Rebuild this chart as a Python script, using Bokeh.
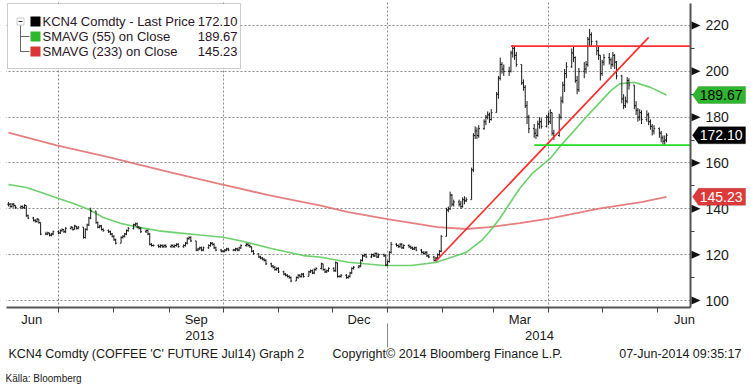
import pandas as pd
from bokeh.plotting import figure
from bokeh.models import (Range1d, FixedTicker, LinearAxis, Label, BoxAnnotation,
                          PolyAnnotation, ColumnDataSource)
from bokeh.embed import file_html
from bokeh.resources import INLINE

# ---------------- data ----------------
first_day = "2013-06-03"
last_day = "2014-06-06"

close = [
    142, 141, 142, 141.5, 140.5,
    141, 140.5, 141.5, 137, 136,
    135, 134.5, 135.5, 134, 129,
    129, 129.5, 128.5, 129, 130,
    129.5, 130.5, 131, 130, 131.5,
    132, 131, 132.5, 131.5, 132,
    127.5, 131, 133, 136, 139,
    134, 132, 132.5, 131, 130.5,
    130, 129, 128, 126.5, 125,
    127.5, 128, 129, 130.5, 131.5,
    133, 133.5, 132, 131.5, 130,
    130.5, 129, 124.5, 124, 124,
    123.5, 124, 123.5, 124, 123.5,
    124, 123.5, 124, 124.5, 123.5,
    124, 125, 127, 127.5, 126,
    122, 122.5, 123, 122, 123,
    124, 125, 124.5, 123, 122,
    121.5, 121.5, 122, 122.5, 122,
    122, 122.5, 122, 123, 124,
    124.5, 124, 123.5, 121.5, 120.5,
    119, 118.5, 118, 117.5, 116,
    115, 114.5, 113.5, 114, 112.5,
    111.5, 111, 110.5, 110, 108.5,
    110, 111, 110.5, 111.5, 110.5,
    112.5, 113, 112, 113.5, 114,
    116, 113.5, 112.5, 113, 114,
    113, 116.5, 110.5, 110.5, 111,
    110, 110.5, 112, 114, 114.5,
    115, 117.5, 119.5, 120, 119,
    120, 119.5, 120.5, 119, 120,
    119.5, 115.5, 117, 121, 124.5,
    124, 123.5, 124.5, 123, 124,
    123.5, 123, 122.5, 123, 122,
    121, 120.5, 121, 119.5, 119,
    117.5, 118.5, 120, 121.5, 128,
    139.5, 140, 146, 142, 143,
    142, 141, 144, 143.5, 144,
    157, 172, 174, 172, 175,
    178, 180, 181, 179, 182,
    190, 197, 203, 201, 200,
    200, 208, 210, 207, 203,
    195, 193, 185, 180, 175,
    173, 172, 177, 178, 176,
    180, 178, 182, 173, 172,
    180, 187, 194, 199, 202,
    208, 206, 196, 192, 200,
    201, 203, 214, 216, 213,
    209, 207, 199, 204, 206,
    205, 203, 207, 204, 198,
    188, 185, 187, 196, 194,
    185, 183, 180, 182, 179,
    181, 178, 176, 174, 175,
    173, 171, 169.5, 170, 172.1,
]

high = [
    143, 142.5, 142.5, 142.5, 141.5,
    141.5, 141.5, 142, 141.5, 137.5,
    136.5, 135.5, 136, 135.5, 134,
    130, 130, 129.5, 129.5, 130.5,
    130.5, 131, 131.5, 131, 132,
    132.5, 132, 133, 132.5, 132.5,
    132, 131.5, 133.5, 136.5, 140.5,
    139, 134.5, 133, 133, 131.5,
    131, 130.5, 129.5, 128.5, 127,
    128, 128.5, 129.5, 131, 132,
    133.5, 134, 134, 132.5, 132,
    131, 131, 129.5, 125, 124.5,
    124.5, 124.5, 124.5, 124.5, 124.5,
    124.5, 124.5, 124.5, 125, 125,
    124.5, 125.5, 127.5, 128, 128,
    126, 123, 123.5, 123.5, 123.5,
    124.5, 125.5, 125.5, 125, 123.5,
    122.5, 122, 122.5, 123, 123,
    122.5, 123, 123, 123.5, 124.5,
    125, 125, 124.5, 123.5, 122,
    120.5, 119.5, 119, 118.5, 118,
    116.5, 115.5, 115, 114.5, 114.5,
    113, 112, 111.5, 111, 110.5,
    110.5, 111.5, 111.5, 112, 112,
    113, 113.5, 113.5, 114, 114.5,
    116.5, 116, 114, 113.5, 114.5,
    114.5, 117, 116.5, 111, 111.5,
    111.5, 111, 112.5, 114.5, 115,
    115.5, 118, 120, 120.5, 120.5,
    120.5, 120.5, 121, 121, 120.5,
    120.5, 120, 117.5, 121.5, 125.5,
    125, 124.5, 125, 125, 124.5,
    124.5, 124, 123.5, 123.5, 123.5,
    122.5, 121.5, 121.5, 121.5, 120,
    119.5, 119, 120.5, 122, 128.5,
    140.5, 141, 147.5, 146.5, 144,
    144, 143.5, 145, 145.5, 145,
    158, 173, 176, 175.5, 176.5,
    179, 181, 182.5, 182, 183.5,
    191, 198, 206, 204, 203,
    202, 209, 211.5, 211, 208.5,
    203, 196.5, 194, 187, 181,
    177, 175, 178.5, 180, 179.5,
    181, 182, 183.5, 182, 174.5,
    181.5, 189, 195.5, 201, 204,
    210, 211, 206.5, 198, 201.5,
    204, 204.5, 215, 218.5, 217,
    213.5, 211, 207, 205, 207.5,
    208, 206, 208.5, 207.5, 204.5,
    198.5, 190, 189, 197.5, 197,
    194, 187, 184, 183.5, 183,
    183, 182, 179, 177, 176.5,
    175.5, 174, 172, 172, 173,
]

low = [
    141, 140.5, 140.5, 140.5, 140,
    140, 140, 140, 136.5, 135.5,
    134.5, 134, 134, 133.5, 128.5,
    128.5, 128.5, 128, 128, 128.5,
    129, 129, 130, 129.5, 129.5,
    131, 130.5, 131, 131, 131,
    127, 127, 130.5, 132.5, 135.5,
    133.5, 131.5, 131.5, 130.5, 130,
    129.5, 128.5, 127.5, 126, 124.5,
    125, 127, 127.5, 128.5, 130,
    131, 132.5, 131.5, 131, 129.5,
    129.5, 128.5, 124, 123.5, 123.5,
    123, 123, 123, 123, 123,
    123, 123, 123, 123.5, 123,
    123, 123.5, 124.5, 126.5, 125.5,
    121.5, 121.5, 122, 121.5, 121.5,
    122.5, 123.5, 124, 122.5, 121.5,
    121, 121, 121, 121.5, 121.5,
    121.5, 121.5, 121.5, 121.5, 122.5,
    123.5, 123.5, 123, 121, 120,
    118.5, 118, 117.5, 117, 115.5,
    114.5, 114, 113, 113, 112,
    111, 110.5, 110, 109.5, 108,
    108.5, 109.5, 110, 110, 110,
    110.5, 112, 111.5, 111.5, 113,
    113.5, 113, 112, 112, 112.5,
    112.5, 112.5, 110, 110, 110,
    109.5, 109.5, 110, 111.5, 113.5,
    114, 114.5, 117, 119, 118.5,
    118.5, 119, 119, 118.5, 118.5,
    119, 115, 115, 116.5, 120.5,
    123.5, 123, 123, 122.5, 122.5,
    123, 122.5, 122, 122, 121.5,
    120.5, 120, 120, 119, 118.5,
    117, 117, 118, 119.5, 121,
    128, 138.5, 139.5, 141, 141,
    141, 140, 140.5, 142, 143,
    144, 156, 170.5, 170.5, 171,
    174.5, 176.5, 179, 177.5, 178.5,
    182, 188, 196, 199, 198,
    198, 199.5, 206, 205, 202,
    194, 191.5, 184, 177, 173,
    171, 170.5, 171.5, 175, 175,
    175.5, 176.5, 177, 172, 170,
    171.5, 179, 186, 191, 197,
    201.5, 204, 195, 190, 191,
    197, 199, 202, 211, 211,
    207, 205, 196, 198, 202.5,
    203, 201, 202, 201, 196.5,
    186, 183.5, 184, 186, 192,
    183.5, 181, 178, 178.5, 177,
    178, 176.5, 174.5, 172, 172.5,
    171, 169, 168, 168, 169,
]

sma55_dates = ["2013-06-03", "2013-06-13", "2013-06-21", "2013-07-01", "2013-07-09",
               "2013-07-18", "2013-07-26", "2013-08-05", "2013-08-15", "2013-08-26",
               "2013-09-06", "2013-09-18", "2013-10-01", "2013-10-10", "2013-10-28",
               "2013-11-15", "2013-11-25", "2013-12-10", "2013-12-30", "2014-01-14",
               "2014-01-28", "2014-02-14", "2014-02-23", "2014-02-27", "2014-03-05",
               "2014-03-10", "2014-03-16", "2014-03-23", "2014-04-02", "2014-04-08",
               "2014-04-23", "2014-05-06", "2014-05-11", "2014-05-19", "2014-05-28",
               "2014-06-06"]
sma55_values = [150.6, 149.3, 147.2, 144.5, 142.4,
                139.7, 136.2, 133.6, 131.9, 130.4,
                129.5, 128.6, 127.6, 126.2, 122.7,
                119.6, 118.9, 116.7, 115.3, 115.3,
                116.6, 121.0, 126.5, 130.0, 136.0,
                142.0, 149.0, 155.5, 162.0, 167.7,
                180.8, 191.7, 194.6, 195.2, 193.0,
                189.67]

sma233_dates = ["2013-06-03", "2013-06-30", "2013-07-29", "2013-09-01", "2013-09-29",
                "2013-10-27", "2013-11-24", "2013-12-10", "2014-01-01", "2014-01-29",
                "2014-02-14", "2014-02-27", "2014-03-16", "2014-04-02", "2014-04-30",
                "2014-05-23", "2014-06-06"]
sma233_values = [173.3, 167.7, 162.6, 156.0, 150.9,
                 145.9, 141.5, 138.6, 135.5, 132.0,
                 131.2, 132.0, 133.8, 135.8, 140.2,
                 142.9, 145.23]

trend_dates = ["2014-01-28", "2014-05-27"]
trend_values = [117.2, 214.8]
resistance_dates = ["2014-03-11", "2014-06-19"]
resistance_values = [211.0, 211.0]
support_dates = ["2014-03-24", "2014-06-19"]
support_values = [167.8, 167.8]

y_ticks = [100, 120, 140, 160, 180, 200, 220]
y_minor = [110, 130, 150, 170, 190, 210]
month_labels = ["Jun", "Sep", "Dec", "Mar", "Jun"]
month_label_dates = ["2013-06-16", "2013-09-16", "2013-12-16", "2014-03-16", "2014-06-16"]
month_starts = ["2013-07-01", "2013-08-01", "2013-09-01", "2013-10-01", "2013-11-01",
                "2013-12-01", "2014-01-01", "2014-02-01", "2014-03-01", "2014-04-01",
                "2014-05-01", "2014-06-01"]
quarter_grid = ["2013-07-01", "2013-10-01", "2014-01-01", "2014-04-01"]
year_labels = ["2013", "2014"]
year_label_dates = ["2013-09-18", "2014-03-27"]
year_separator = ["2014-01-01"]

legend_names = ["KCN4 Comdty - Last Price", "SMAVG (55) on Close", "SMAVG (233) on Close"]
legend_values = ["172.10", "189.67", "145.23"]
last_values = [172.10, 189.67, 145.23]
footer_texts = ["KCN4 Comdty (COFFEE 'C' FUTURE Jul14) Graph 2",
                "Copyright\u00a9 2014 Bloomberg Finance L.P.",
                "07-Jun-2014 09:35:17"]
source_text = "K\u00e4lla: Bloomberg"

# ---------------- layout helpers (page pixel -> data) ----------------
def ms(s):
    return pd.Timestamp(s).value / 1e6

W, H = 751, 388
ANCHOR, ANCHOR_PX, PX_PER_DAY = ms("2013-07-01"), 58.0, 1.7883
PX_PER_UNIT = 2.2917
DAY = 86400000.0

def dx(px):
    return ANCHOR + (px - ANCHOR_PX) / PX_PER_DAY * DAY

def dy(py):
    return 100 + (300 - py) / PX_PER_UNIT

U = 1 / PX_PER_UNIT
FONT = "Liberation Sans"
TXT = "#1a1a1a"

p = figure(width=W, height=H, x_axis_type="datetime", y_axis_location="right",
           x_range=Range1d(dx(0), dx(W)), y_range=Range1d(dy(H), dy(0)),
           output_backend="svg", toolbar_location=None,
           min_border=0, min_border_left=0, min_border_right=0,
           min_border_top=0, min_border_bottom=0)
p.outline_line_color = None
p.background_fill_color = "white"

# grids
p.xgrid.ticker = FixedTicker(ticks=[ms(d) for d in quarter_grid])
p.ygrid.ticker = FixedTicker(ticks=y_ticks)
for g in (p.xgrid[0], p.ygrid[0]):
    g.grid_line_color = "#8a8a8a"
    g.grid_line_dash = "2 2"
    g.grid_line_width = 1

# white covers so grid lines stop at the axes
p.add_layout(BoxAnnotation(left=dx(691), fill_color="white", fill_alpha=1,
                           line_color=None, level="underlay"))
p.add_layout(BoxAnnotation(top=dy(308), fill_color="white", fill_alpha=1,
                           line_color=None, level="underlay"))
p.add_layout(BoxAnnotation(right=dx(5.5), fill_color="white", fill_alpha=1,
                           line_color=None, level="underlay"))

# right value axis (fixed at the plot's right edge)
ya = p.yaxis[0]
ya.fixed_location = dx(690)
ya.bounds = (dy(307), dy(3))
ya.ticker = FixedTicker(ticks=y_ticks, minor_ticks=y_minor)
ya.axis_line_color = "#555555"
ya.axis_line_width = 2
ya.major_tick_in = 0
ya.major_tick_out = 0
ya.minor_tick_in = 0
ya.minor_tick_out = 4
ya.minor_tick_line_color = "#444444"
ya.major_label_standoff = 11
ya.major_label_text_font = FONT
ya.major_label_text_font_size = "14px"
ya.major_label_text_color = TXT

# month axis
xa = p.xaxis[0]
xa.fixed_location = dy(307)
xa.bounds = (dx(6), dx(690))
lab_ms = [ms(d) for d in month_label_dates]
xa.ticker = FixedTicker(ticks=lab_ms, minor_ticks=[ms(d) for d in month_starts])
xa.major_label_overrides = {t: l for t, l in zip(lab_ms, month_labels)}
xa.axis_line_color = "#555555"
xa.axis_line_width = 2
xa.major_tick_in = 0
xa.major_tick_out = 0
xa.minor_tick_in = 0
xa.minor_tick_out = 5
xa.minor_tick_line_color = "#444444"
xa.major_label_standoff = -1
xa.major_label_text_font = FONT
xa.major_label_text_font_size = "13px"
xa.major_label_text_color = TXT

# year axis
yr_ms = [ms(d) for d in year_label_dates]
ax_year = LinearAxis(ticker=FixedTicker(ticks=yr_ms, minor_ticks=[ms(d) for d in year_separator]),
                     major_label_overrides={t: l for t, l in zip(yr_ms, year_labels)})
ax_year.fixed_location = dy(323)
ax_year.bounds = (dx(6), dx(690))
ax_year.axis_line_color = None
ax_year.major_tick_line_color = None
ax_year.minor_tick_in = 0
ax_year.minor_tick_out = 24
ax_year.minor_tick_line_color = "#888888"
ax_year.major_label_standoff = -17
ax_year.major_label_text_font = FONT
ax_year.major_label_text_font_size = "13px"
ax_year.major_label_text_color = TXT
p.add_layout(ax_year, "below")

# ---------------- marks ----------------
days = pd.bdate_range(first_day, last_day)
opens = [close[0]] + close[:-1]
half = pd.Timedelta(hours=16)
src = ColumnDataSource(dict(x=days, xl=days - half, xr=days + half,
                            o=opens, h=high, l=low, c=close))

p.line([pd.Timestamp(d) for d in sma233_dates], sma233_values, line_color="#e06a6a",
       line_width=1.8, line_alpha=0.85)
p.line([pd.Timestamp(d) for d in sma55_dates], sma55_values, line_color="#5ccc5c",
       line_width=1.6, line_alpha=0.9)

p.segment(x0="x", y0="l", x1="x", y1="h", source=src, line_color="#1a1a1a", line_width=1)
p.segment(x0="xl", y0="o", x1="x", y1="o", source=src, line_color="#1a1a1a", line_width=1)
p.segment(x0="x", y0="c", x1="xr", y1="c", source=src, line_color="#1a1a1a", line_width=1)

p.line([pd.Timestamp(d) for d in trend_dates], trend_values, line_color="#ff2a2a", line_width=1.6)
p.line([pd.Timestamp(d) for d in resistance_dates], resistance_values, line_color="#ff3030", line_width=1.6)
p.line([pd.Timestamp(d) for d in support_dates], support_values, line_color="#22dd22", line_width=1.6)

# ---------------- right axis arrows and last-value boxes ----------------
for t in y_ticks:
    p.add_layout(PolyAnnotation(xs=[dx(691), dx(700), dx(691)],
                                ys=[t + 4 * U, t, t - 4 * U],
                                fill_color="#111111", fill_alpha=1, line_color=None))

box_styles = [("#000000", "#000000", "white"),
              ("#2fb52f", "#1f7f1f", "#000000"),
              ("#dc3a3a", "#9a2020", "white")]
for v, (fc, lc, tc) in zip(last_values, box_styles):
    h = 8.5 * U
    p.add_layout(PolyAnnotation(xs=[dx(692), dx(698), dx(745), dx(745), dx(698)],
                                ys=[v, v + h, v + h, v - h, v - h],
                                fill_color=fc, fill_alpha=1, line_color=lc, line_width=1))
for v, s, (fc, lc, tc) in zip(last_values, legend_values, box_styles):
    p.add_layout(Label(x=dx(742), y=v, text=s, text_align="right", text_baseline="middle",
                       text_color=tc, text_font=FONT, text_font_size="14px"))

# ---------------- legend ----------------
p.add_layout(BoxAnnotation(left=dx(7), right=dx(240), top=dy(3), bottom=dy(68),
                           fill_color="white", fill_alpha=1, line_color="#555555", line_width=1))
p.add_layout(BoxAnnotation(left=dx(19.5), right=dx(20.5), top=dy(25), bottom=dy(51.5),
                           fill_color="#666666", fill_alpha=1, line_color=None))
for ry in (36, 51):
    p.add_layout(BoxAnnotation(left=dx(19.5), right=dx(29), top=dy(ry - 0.5), bottom=dy(ry + 0.5),
                               fill_color="#666666", fill_alpha=1, line_color=None))
p.add_layout(BoxAnnotation(left=dx(16.5), right=dx(23.5), top=dy(17.5), bottom=dy(24.5),
                           fill_color="white", fill_alpha=1, line_color="#555555", line_width=1))
p.add_layout(BoxAnnotation(left=dx(18), right=dx(22), top=dy(20.5), bottom=dy(21.5),
                           fill_color="#333333", fill_alpha=1, line_color=None))
legend_colors = ["#000000", "#2db82d", "#dd3535"]
for i, (name, val, col) in enumerate(zip(legend_names, legend_values, legend_colors)):
    ry = 21 + 15 * i
    p.add_layout(BoxAnnotation(left=dx(30), right=dx(40), top=dy(ry - 5), bottom=dy(ry + 5),
                               fill_color=col, fill_alpha=1, line_color=None))
    p.add_layout(Label(x=dx(42), y=dy(ry), text=name, text_baseline="middle",
                       text_color="#2a1626", text_font=FONT, text_font_size="13px"))
    p.add_layout(Label(x=dx(237), y=dy(ry), text=val, text_baseline="middle", text_align="right",
                       text_color="#2a1626", text_font=FONT, text_font_size="13px"))

# ---------------- footer ----------------
for txt, px, al in zip(footer_texts, (8, 332, 741), ("left", "left", "right")):
    p.add_layout(Label(x=dx(px), y=dy(353), text=txt, text_align=al, text_baseline="middle",
                       text_color=TXT, text_font=FONT, text_font_size="12.5px"))
p.add_layout(Label(x=dx(5), y=dy(378), text=source_text, text_align="left", text_baseline="middle",
                   text_color=TXT, text_font=FONT, text_font_size="10px"))

open("out.html", "w").write(file_html(p, INLINE))
